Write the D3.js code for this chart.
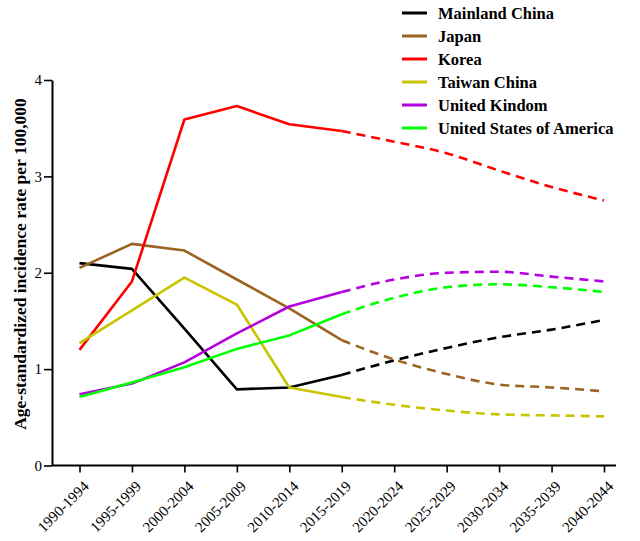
<!DOCTYPE html>
<html>
<head>
<meta charset="utf-8">
<script src="https://cdn.jsdelivr.net/npm/d3@7"></script>
<style>
html,body{margin:0;padding:0;background:#fff;}
svg{display:block;}
</style>
</head>
<body>
<svg id="chart" width="640" height="541"></svg>
<script>
const periods = ["1990-1994","1995-1999","2000-2004","2005-2009","2010-2014","2015-2019","2020-2024","2025-2029","2030-2034","2035-2039","2040-2044"];
const seriesNames = ["Mainland China","Japan","Korea","Taiwan China","United Kindom","United States of America"];
const seriesColors = ["#000000","#9B6420","#FF0000","#C8C400","#B400E0","#00FF00"];
const mainlandChina = [2.10,2.04,1.42,0.79,0.81,0.94,1.09,1.22,1.33,1.41,1.51];
const japan         = [2.05,2.30,2.23,1.93,1.63,1.30,1.10,0.95,0.84,0.81,0.77];
const korea         = [1.20,1.91,3.59,3.73,3.54,3.47,3.36,3.24,3.06,2.89,2.75];
const taiwanChina   = [1.27,1.61,1.95,1.67,0.81,0.71,0.63,0.57,0.53,0.52,0.51];
const unitedKingdom = [0.74,0.85,1.07,1.37,1.65,1.80,1.93,2.00,2.01,1.96,1.91];
const unitedStates  = [0.71,0.86,1.02,1.21,1.35,1.57,1.74,1.85,1.88,1.85,1.80];
const yTicks = [0,1,2,3,4];
const lastObservedIndex = 5;

const seriesValues = [mainlandChina, japan, korea, taiwanChina, unitedKingdom, unitedStates];

const svg = d3.select("#chart");
const x = d3.scalePoint().domain(periods).range([79.5, 604]);
const y = d3.scaleLinear().domain([0,4]).range([465.5, 80]);
const serif = "'Liberation Serif','Times New Roman',serif";
const axisX = 52;

// axes
const xAxisG = svg.append("g").attr("transform","translate(0,465.5)");
xAxisG.call(d3.axisBottom(x).tickSize(7).tickPadding(4).tickSizeOuter(0));
xAxisG.select(".domain").attr("d",`M${axisX},0H616`).attr("stroke","#000").attr("stroke-width",2);
xAxisG.selectAll(".tick line").attr("stroke","#000").attr("stroke-width",1.6);
xAxisG.selectAll(".tick text")
  .attr("font-family",serif).attr("font-size",15).attr("fill","#000")
  .attr("text-anchor","end")
  .attr("x",0).attr("y",0).attr("dy","0.35em")
  .attr("transform","translate(6,18) rotate(-45)");

const yAxisG = svg.append("g").attr("transform",`translate(${axisX},0)`);
yAxisG.call(d3.axisLeft(y).tickValues(yTicks).tickFormat(d3.format("d")).tickSize(8).tickPadding(2).tickSizeOuter(0));
yAxisG.select(".domain").attr("stroke","#000").attr("stroke-width",2);
yAxisG.selectAll(".tick line").attr("stroke","#000").attr("stroke-width",1.6);
yAxisG.selectAll(".tick text").attr("font-family",serif).attr("font-size",15).attr("fill","#000");

svg.append("text")
  .attr("transform","translate(26,264) rotate(-90)")
  .attr("text-anchor","middle")
  .attr("font-family",serif).attr("font-weight","bold").attr("font-size",17.5)
  .text("Age-standardized incidence rate per 100,000");

// lines
const solidLine = d3.line().x((d,i)=>x(periods[i])).y(d=>y(d)).curve(d3.curveLinear);
const dashLine = d3.line().x(d=>x(d.p)).y(d=>y(d.v)).curve(d3.curveMonotoneX);

seriesValues.forEach((vals, k) => {
  const hist = vals.slice(0, lastObservedIndex+1);
  svg.append("path").attr("d", solidLine(hist))
    .attr("fill","none").attr("stroke",seriesColors[k]).attr("stroke-width",2.6)
    .attr("stroke-linejoin","round");
  const proj = vals.slice(lastObservedIndex).map((v,i)=>({p:periods[lastObservedIndex+i], v}));
  svg.append("path").attr("d", dashLine(proj))
    .attr("fill","none").attr("stroke",seriesColors[k]).attr("stroke-width",2.6)
    .attr("stroke-dasharray","9,6");
});

// legend
const legend = svg.append("g");
seriesNames.forEach((name,k)=>{
  const ly = 13 + k*23;
  legend.append("line").attr("x1",402).attr("x2",427).attr("y1",ly).attr("y2",ly)
    .attr("stroke",seriesColors[k]).attr("stroke-width",3);
  legend.append("text").attr("x",438).attr("y",ly).attr("dy","0.35em")
    .attr("font-family",serif).attr("font-weight","bold").attr("font-size",16.5)
    .text(name);
});
</script>
</body>
</html>
